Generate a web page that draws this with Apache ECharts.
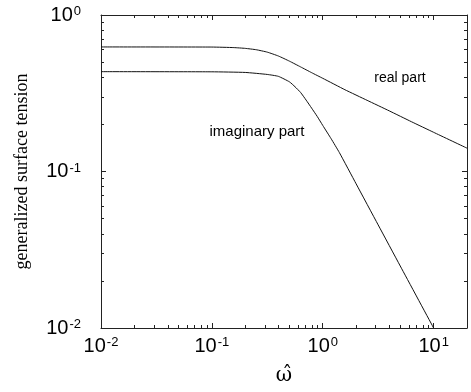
<!DOCTYPE html>
<html>
<head>
    <meta http-equiv="Content-Type" content="text/html; charset=UTF-8">
    <title>generalized surface tension</title>
    <script type="text/javascript" src="https://cdn.jsdelivr.net/npm/echarts/dist/echarts.min.js"></script>
    <style>
        html, body { margin: 0; padding: 0; background: #fff; }
    </style>
</head>
<body>
    <div id="main" style="width: 471px;height:392px;"></div>

    <script type="text/javascript">
        // 数据
        var realX = [0.01, 0.1, 0.158, 0.2, 0.251, 0.316, 0.398, 0.501, 0.631, 0.794, 1.0, 1.585, 2.512, 3.98, 6.31, 10, 20];
        var realY = [0.625, 0.624, 0.619, 0.612, 0.600, 0.579, 0.547, 0.507, 0.466, 0.428, 0.394, 0.333, 0.285, 0.244, 0.208, 0.178, 0.141];
        var imagX = [0.01, 0.1, 0.2, 0.316, 0.398, 0.501, 0.562, 0.631, 0.708, 0.794, 0.891, 1.0, 1.19, 1.413, 2.0, 3.16, 5.0, 10];
        var imagY = [0.4345, 0.4335, 0.4295, 0.417, 0.4055, 0.374, 0.348, 0.320, 0.286, 0.254, 0.225, 0.197, 0.162, 0.132, 0.0834, 0.0456, 0.0249, 0.01];

        // 刻度
        var xMajor = [0.01, 0.1, 1, 10];
        var xMinor = [0.02, 0.03, 0.04, 0.05, 0.06, 0.07, 0.08, 0.09,
                      0.2, 0.3, 0.4, 0.5, 0.6, 0.7, 0.8, 0.9,
                      2, 3, 4, 5, 6, 7, 8, 9];
        var yMajor = [0.01, 0.1, 1];
        var yMinor = [0.02, 0.03, 0.04, 0.05, 0.06, 0.07, 0.08, 0.09,
                      0.2, 0.3, 0.4, 0.5, 0.6, 0.7, 0.8, 0.9];
        var tickLabels = {0.01: '-2', 0.1: '-1', 1: '0', 10: '1'};

        function pair(xs, ys) {
            var out = [];
            for (var i = 0; i < xs.length; i++) {
                out.push([xs[i], ys[i]]);
            }
            return out;
        }

        var axisColor = '#222';
        var labelRich = {
            b: { fontFamily: 'Liberation Sans', fontSize: 20, color: '#000' },
            s: { fontFamily: 'Liberation Sans', fontSize: 13, color: '#000', verticalAlign: 'top', padding: [0, 0, 0, 1] }
        };
        function powLabel(v) {
            return '{b|10}{s|' + tickLabels[+v.toPrecision(3)] + '}';
        }

        // 一个对数轴
        function logAxis(dim, pos, ticks, len, line, labels) {
            var ax = {
                type: 'log',
                logBase: 10,
                position: pos,
                min: 0.01,
                max: dim === 'x' ? 20 : 1,
                axisLine: { show: line, lineStyle: { color: axisColor, width: 1 } },
                axisTick: { show: true, inside: true, length: len, customValues: ticks, lineStyle: { color: axisColor, width: 1 } },
                axisLabel: { show: false },
                splitLine: { show: false },
                minorTick: { show: false }
            };
            if (labels) {
                ax.axisLabel = {
                    show: true,
                    customValues: ticks,
                    formatter: powLabel,
                    rich: labelRich,
                    margin: dim === 'x' ? 8 : 20
                };
            }
            return ax;
        }

        var xAxes = [
            logAxis('x', 'bottom', xMajor, 5, true, true),
            logAxis('x', 'bottom', xMinor, 3, false, false),
            logAxis('x', 'top', xMajor, 5, true, false),
            logAxis('x', 'top', xMinor, 3, false, false)
        ];
        xAxes[0].name = 'ω\u0302';
        xAxes[0].nameLocation = 'middle';
        xAxes[0].nameGap = 38;
        xAxes[0].nameTextStyle = { fontFamily: 'DejaVu Serif', fontSize: 20, color: '#000' };

        var yAxes = [
            logAxis('y', 'left', yMajor, 5, true, true),
            logAxis('y', 'left', yMinor, 3, false, false),
            logAxis('y', 'right', yMajor, 5, true, false),
            logAxis('y', 'right', yMinor, 3, false, false)
        ];
        yAxes[0].name = 'generalized surface tension';
        yAxes[0].nameLocation = 'middle';
        yAxes[0].nameGap = 70;
        yAxes[0].nameRotate = 90;
        yAxes[0].nameTextStyle = { fontFamily: 'Liberation Serif', fontSize: 18, color: '#000' };

        var myChart = echarts.init(document.getElementById('main'), null, { renderer: 'canvas' });
        myChart.setOption({
            animation: false,
            backgroundColor: '#fff',
            grid: { left: 101, right: 4, top: 15, bottom: 64, containLabel: false },
            xAxis: xAxes,
            yAxis: yAxes,
            series: [
                {
                    name: 'real part',
                    type: 'line',
                    smooth: 0.15,
                    showSymbol: false,
                    lineStyle: { color: '#111', width: 1 },
                    data: pair(realX, realY)
                },
                {
                    name: 'imaginary part',
                    type: 'line',
                    smooth: 0.15,
                    showSymbol: false,
                    lineStyle: { color: '#111', width: 1 },
                    data: pair(imagX, imagY)
                }
            ],
            graphic: [
                { type: 'text', x: 400, y: 78, style: { text: 'real part', font: '14px "Liberation Sans"', fill: '#000', align: 'center', verticalAlign: 'middle' } },
                { type: 'text', x: 257, y: 132, style: { text: 'imaginary part', font: '15px "Liberation Sans"', fill: '#000', align: 'center', verticalAlign: 'middle' } }
            ]
        });
    </script>
</body>
</html>
